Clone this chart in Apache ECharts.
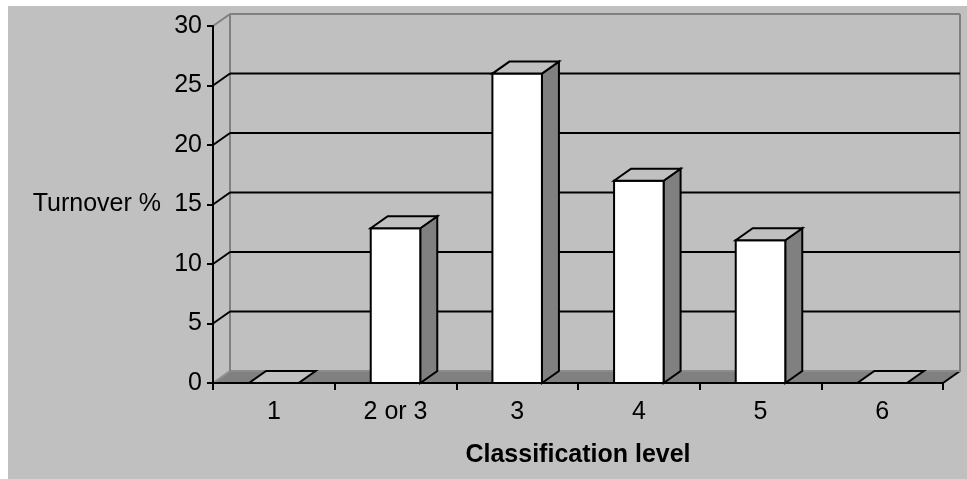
<!DOCTYPE html>
<html>
<head>
<meta charset="utf-8">
<style>
  html, body { margin: 0; padding: 0; background: #ffffff; overflow: hidden; }
  #chart { position: absolute; left: 8px; top: 6px; width: 959px; height: 473px; }
</style>
<script src="https://cdn.jsdelivr.net/npm/echarts@6/dist/echarts.min.js"></script>
</head>
<body>
<div id="chart"></div>
<script>
// Staff turnover by classification level
const categories = ['1', '2 or 3', '3', '4', '5', '6'];
const turnover = [0, 13, 26, 17, 12, 0];
const yTicks = [0, 5, 10, 15, 20, 25, 30];

// Pseudo-3D depth of the plot box and of each column
const DEPTH_X = 17;
const DEPTH_Y = -12;
const BAR_RATIO = 0.407;
const FONT = '"Liberation Sans", Arial, sans-serif';
const WALL = '#808080';
const PANEL = '#c0c0c0';

function poly(points, fill, stroke, width) {
  return {
    type: 'polygon',
    shape: { points },
    style: { fill, stroke, lineWidth: width, lineJoin: 'miter' }
  };
}
function line(x1, y1, x2, y2, stroke, width) {
  return {
    type: 'line',
    shape: { x1, y1, x2, y2 },
    style: { stroke, lineWidth: width, fill: null }
  };
}

// Floor, back wall edges and the gridlines that run along the walls
function renderWallLine(params, api) {
  const value = api.value(0);
  const box = params.coordSys;
  const left = box.x;
  const right = box.x + box.width;
  const y = api.coord([0, value])[1];
  const children = [];
  const backY = y + DEPTH_Y;
  if (value === yTicks[0]) {
    children.push(poly([
      [left, y], [right, y], [right + DEPTH_X, backY], [left + DEPTH_X, backY]
    ], WALL, null, 0));
    children.push(line(right, y, right + DEPTH_X, backY, '#000000', 2));
    children.push(line(left, y, left + DEPTH_X, backY, '#909090', 2));
    children.push(line(left + DEPTH_X, backY, right + DEPTH_X, backY, '#8c8c8c', 2));
    const top = api.coord([0, yTicks[yTicks.length - 1]])[1] + DEPTH_Y;
    children.push(line(left + DEPTH_X, backY, left + DEPTH_X, top, WALL, 2));
    children.push(line(right + DEPTH_X, backY, right + DEPTH_X, top, WALL, 2));
  } else {
    const color = value === yTicks[yTicks.length - 1] ? WALL : '#000000';
    children.push(line(left, y, left + DEPTH_X, backY, color, 2));
    children.push(line(left + DEPTH_X, backY, right + DEPTH_X, backY, color, 2));
  }
  return { type: 'group', children };
}

// One column: white front, shaded side, light top
function renderColumn(params, api) {
  const index = api.value(0);
  const top = api.coord([index, api.value(1)]);
  const base = api.coord([index, 0]);
  const half = api.size([1, 0])[0] * BAR_RATIO / 2;
  const x0 = top[0] - half;
  const x1 = top[0] + half;
  const yt = top[1];
  const yb = base[1];
  const children = [];
  if (yb > yt) {
    children.push(poly([[x1, yt], [x1 + DEPTH_X, yt + DEPTH_Y], [x1 + DEPTH_X, yb + DEPTH_Y], [x1, yb]], WALL, '#000000', 2));
    children.push(poly([[x0, yt], [x1, yt], [x1, yb], [x0, yb]], '#ffffff', '#000000', 2));
  }
  children.push(poly([[x0, yt], [x1, yt], [x1 + DEPTH_X, yt + DEPTH_Y], [x0 + DEPTH_X, yt + DEPTH_Y]], PANEL, '#000000', 2));
  return { type: 'group', children };
}

const chart = echarts.init(document.getElementById('chart'), null, { renderer: 'canvas' });
chart.setOption({
  animation: false,
  backgroundColor: PANEL,
  textStyle: { fontFamily: FONT },
  grid: { left: 205, right: 24, top: 20, bottom: 96, containLabel: false },
  xAxis: {
    type: 'category',
    data: categories,
    z: 5,
    boundaryGap: true,
    name: 'Classification level',
    nameLocation: 'middle',
    nameGap: 60,
    nameTextStyle: { fontFamily: FONT, fontSize: 25, fontWeight: 'bold', color: '#000000' },
    axisLine: { lineStyle: { color: '#000000', width: 2 } },
    axisTick: { show: true, length: 7, alignWithLabel: false, lineStyle: { color: '#000000', width: 2 } },
    axisLabel: { fontFamily: FONT, fontSize: 25, color: '#000000', margin: 17, interval: 0 },
    splitLine: { show: false }
  },
  yAxis: {
    type: 'value',
    min: 0,
    max: 30,
    interval: 5,
    z: 5,
    name: 'Turnover %',
    nameLocation: 'middle',
    nameRotate: 0,
    nameGap: 52,
    nameTextStyle: { fontFamily: FONT, fontSize: 25, color: '#000000', align: 'right', verticalAlign: 'middle', padding: [4, 0, 0, 0] },
    axisLine: { show: true, lineStyle: { color: '#000000', width: 2 } },
    axisTick: { show: true, length: 6, lineStyle: { color: '#000000', width: 2 } },
    axisLabel: { fontFamily: FONT, fontSize: 25, color: '#000000', margin: 11, padding: [3, 0, 0, 0] },
    splitLine: { show: false }
  },
  series: [
    {
      type: 'custom',
      name: 'Walls',
      silent: true,
      z: 1,
      renderItem: renderWallLine,
      encode: { y: 0 },
      data: yTicks.map(v => [v])
    },
    {
      type: 'custom',
      name: 'Turnover',
      silent: true,
      z: 2,
      renderItem: renderColumn,
      encode: { x: 0, y: 1 },
      data: turnover.map((v, i) => [i, v])
    }
  ]
});
</script>
</body>
</html>
